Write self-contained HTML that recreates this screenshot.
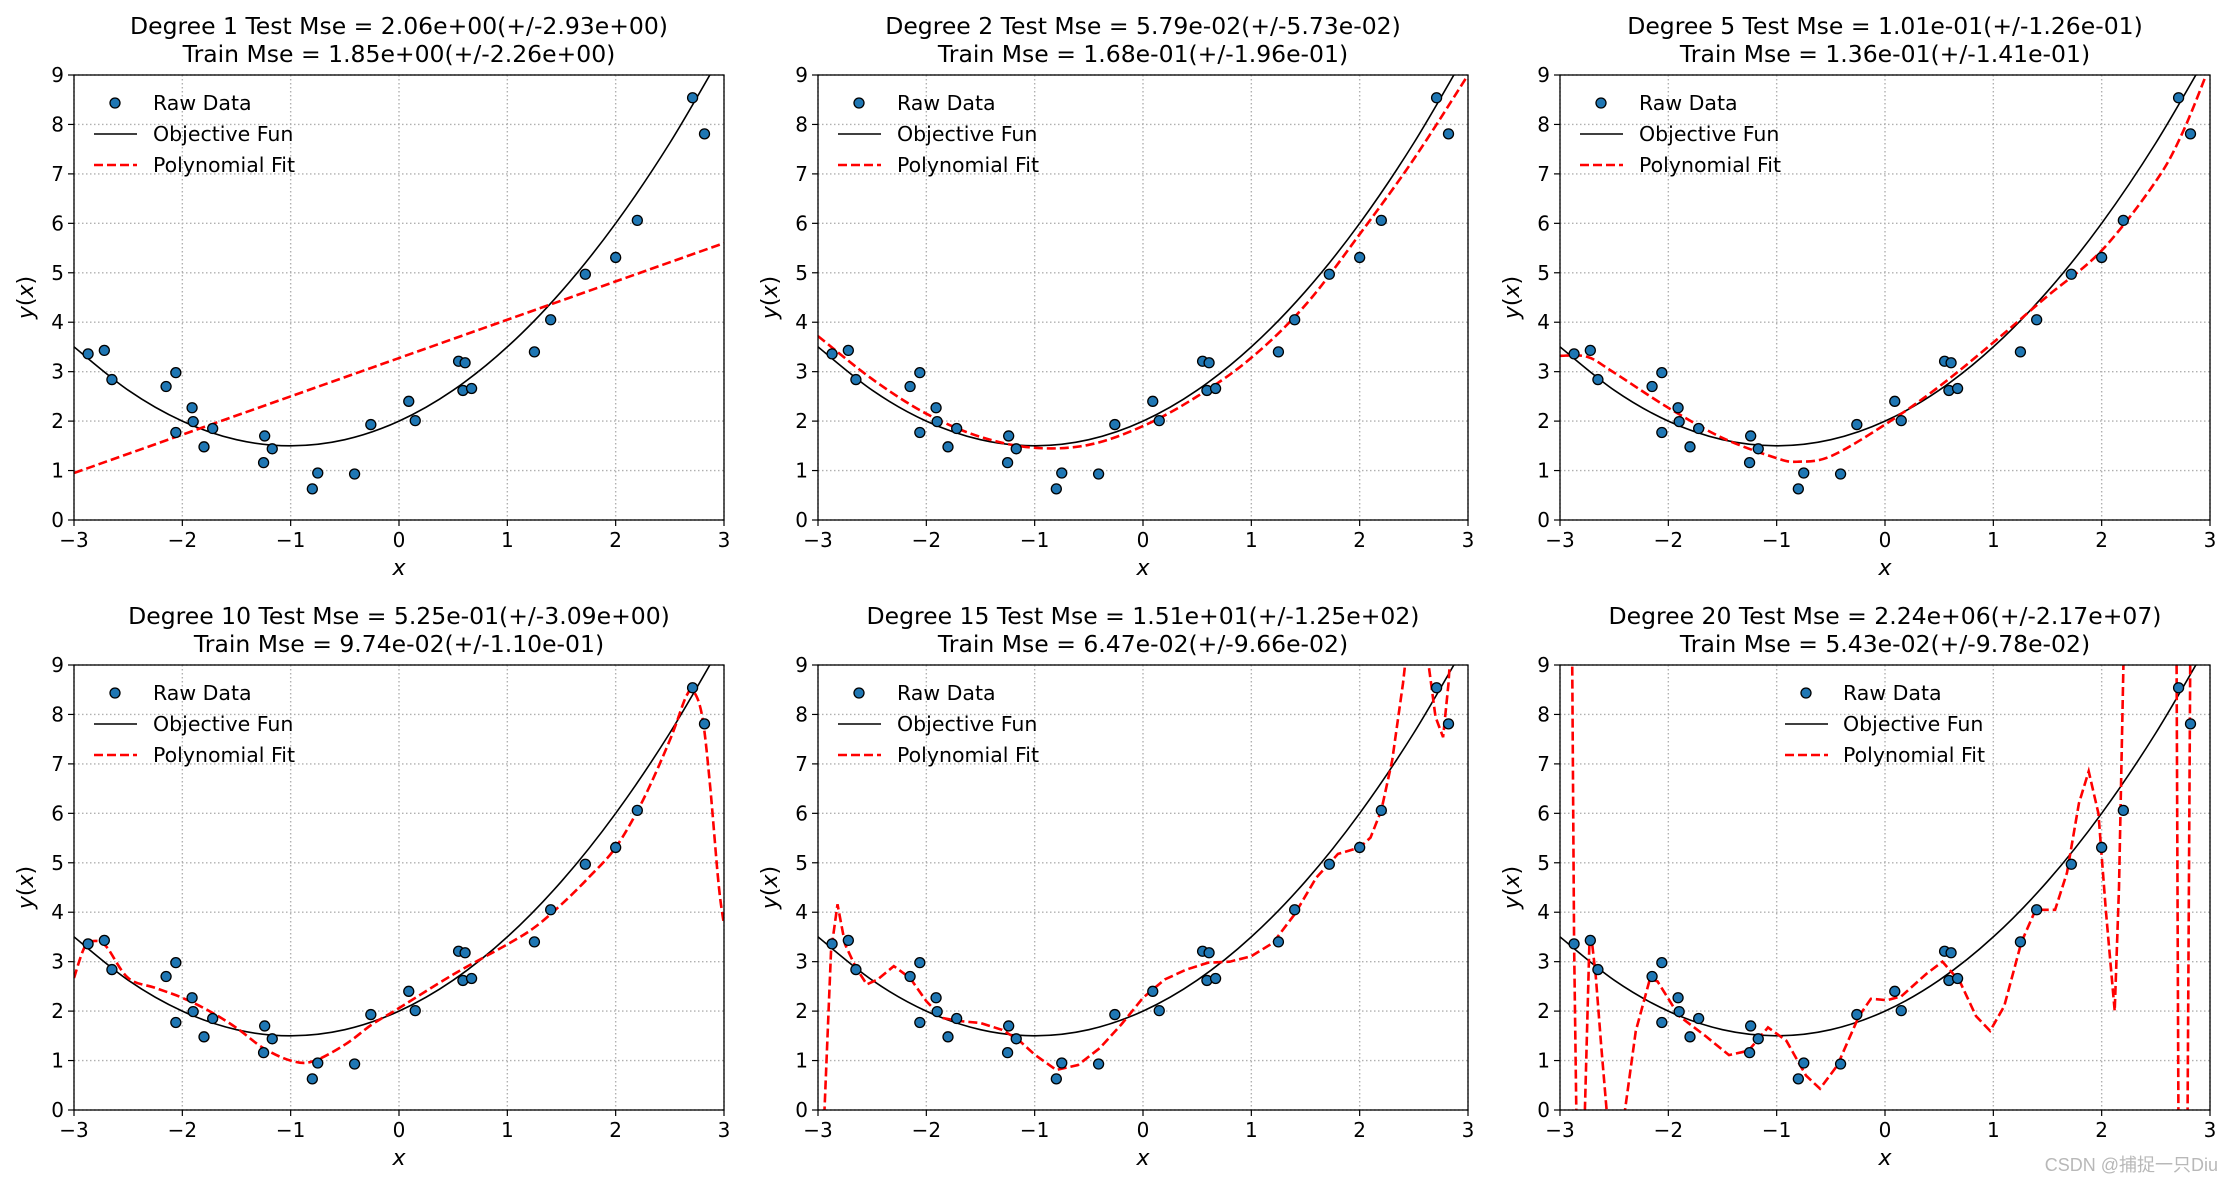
<!DOCTYPE html>
<html><head><meta charset="utf-8"><style>
html,body{margin:0;padding:0;background:#fff;width:2230px;height:1183px;overflow:hidden;}
svg{display:block;font-family:"DejaVu Sans","Liberation Sans",sans-serif;}
</style></head><body>
<svg id="fig" width="2230" height="1183" viewBox="0 0 2230 1183"></svg>
<script>
const xData=[-2.87,-2.72,-2.65,-2.15,-2.06,-2.06,-1.91,-1.90,-1.80,-1.72,-1.24,-1.25,-1.17,-0.80,-0.75,-0.41,-0.26,0.09,0.15,0.55,0.61,0.59,0.67,1.25,1.40,1.72,2.00,2.20,2.71,2.82];
const yData=[3.36,3.43,2.84,2.70,2.98,1.77,2.27,1.99,1.48,1.85,1.70,1.16,1.44,0.63,0.95,0.93,1.93,2.40,2.01,3.21,3.18,2.62,2.66,3.40,4.05,4.97,5.31,6.06,8.54,7.81];
const objX=[-3,-2.5,-2,-1.5,-1,-0.5,0,0.5,1,1.5,2,2.5,3];
const objY=[3.5,2.625,2,1.625,1.5,1.625,2,2.625,3.5,4.625,6,7.625,9.5];
const degrees=[1,2,5,10,15,20];
const titles1=["Degree 1 Test Mse = 2.06e+00(+/-2.93e+00)","Degree 2 Test Mse = 5.79e-02(+/-5.73e-02)","Degree 5 Test Mse = 1.01e-01(+/-1.26e-01)","Degree 10 Test Mse = 5.25e-01(+/-3.09e+00)","Degree 15 Test Mse = 1.51e+01(+/-1.25e+02)","Degree 20 Test Mse = 2.24e+06(+/-2.17e+07)"];
const titles2=["Train Mse = 1.85e+00(+/-2.26e+00)","Train Mse = 1.68e-01(+/-1.96e-01)","Train Mse = 1.36e-01(+/-1.41e-01)","Train Mse = 9.74e-02(+/-1.10e-01)","Train Mse = 6.47e-02(+/-9.66e-02)","Train Mse = 5.43e-02(+/-9.78e-02)"];
const fit1X=[-3,3];
const fit1Y=[0.95,5.6];
const fit2X=[-3,-2.5,-2,-1.5,-1,-0.5,0,0.5,1,1.5,2,2.5,3];
const fit2Y=[3.72,2.85,2.15,1.68,1.46,1.52,1.9,2.5,3.28,4.35,5.78,7.3,9.0];
const fit5X=[-3,-2.75,-2.5,-2,-1.5,-1,-0.8,-0.5,0,0.5,1,1.5,2,2.5,2.75,3];
const fit5Y=[3.32,3.3,2.98,2.27,1.66,1.25,1.18,1.29,1.93,2.7,3.59,4.53,5.45,6.85,7.85,9.2];
const fit10X=[-3,-2.9,-2.8,-2.7,-2.5,-2.25,-2,-1.75,-1.5,-1.25,-1,-0.8,-0.5,-0.25,0,0.5,1,1.25,1.5,1.75,2,2.25,2.5,2.65,2.72,2.8,2.87,2.95,3];
const fit10Y=[2.67,3.3,3.42,3.3,2.67,2.47,2.27,2.0,1.66,1.25,1.0,0.98,1.32,1.73,2.06,2.74,3.35,3.69,4.16,4.7,5.31,6.26,7.48,8.36,8.46,7.95,6.6,4.57,3.75];
const fit15X=[-3,-2.94,-2.88,-2.82,-2.75,-2.65,-2.55,-2.45,-2.3,-2.15,-2,-1.85,-1.7,-1.5,-1.3,-1.15,-1,-0.8,-0.6,-0.4,-0.2,0,0.2,0.4,0.6,0.8,1,1.2,1.4,1.6,1.8,2,2.1,2.2,2.3,2.4,2.45,2.6,2.7,2.77,2.82,2.86];
const fit15Y=[-3,0,3.2,4.16,3.35,2.88,2.54,2.64,2.91,2.67,2.2,1.86,1.8,1.76,1.62,1.42,1.12,0.81,0.91,1.25,1.73,2.27,2.64,2.84,2.98,3.0,3.11,3.38,3.96,4.7,5.18,5.31,5.51,6.06,7.07,8.63,9.6,9.6,7.95,7.54,8.63,10];
const fit20X=[-3,-2.89,-2.87,-2.85,-2.83,-2.79,-2.77,-2.73,-2.71,-2.67,-2.62,-2.57,-2.5,-2.4,-2.3,-2.17,-2.1,-1.9,-1.66,-1.44,-1.26,-1.08,-0.91,-0.73,-0.6,-0.44,-0.24,-0.13,0.02,0.15,0.38,0.53,0.69,0.84,0.97,1.1,1.26,1.39,1.57,1.68,1.79,1.88,1.97,2.04,2.12,2.16,2.21,2.69,2.71,2.79,2.82];
const fit20Y=[30,10,3.35,0,-1,-1,0,3.3,3.5,2.7,1.3,0,-0.6,0,1.6,2.65,2.6,1.9,1.5,1.11,1.2,1.67,1.4,0.7,0.43,0.9,1.9,2.25,2.22,2.3,2.75,3.0,2.6,1.9,1.6,2.1,3.4,4.05,4.05,4.8,6.2,6.85,6.0,4.0,2.0,4.5,10,10,-1,-1,10];
const fitsX=[fit1X,fit2X,fit5X,fit10X,fit15X,fit20X];
const fitsY=[fit1Y,fit2Y,fit5Y,fit10Y,fit15Y,fit20Y];
const smooth=[false,true,true,true,false,false];
const xTicks=[-3,-2,-1,0,1,2,3];
const yTicks=[0,1,2,3,4,5,6,7,8,9];
const legendLabels=["Raw Data","Objective Fun","Polynomial Fit"];

const NS="http://www.w3.org/2000/svg";
const svg=document.getElementById('fig');
function mk(tag,attrs,parent){const e=document.createElementNS(NS,tag);for(const k in attrs)e.setAttribute(k,attrs[k]);(parent||svg).appendChild(e);return e;}
const colL=[74,818,1560], rowT=[75,665], W=650, H=445;
function pathD(px,py,sm){
  let d="M"+px[0].toFixed(1)+","+py[0].toFixed(1);
  if(!sm||px.length<3){for(let i=1;i<px.length;i++)d+="L"+px[i].toFixed(1)+","+py[i].toFixed(1);return d;}
  for(let i=0;i<px.length-1;i++){
    const x0=px[Math.max(i-1,0)],y0=py[Math.max(i-1,0)],x1=px[i],y1=py[i],x2=px[i+1],y2=py[i+1],x3=px[Math.min(i+2,px.length-1)],y3=py[Math.min(i+2,px.length-1)];
    d+="C"+(x1+(x2-x0)/6).toFixed(1)+","+(y1+(y2-y0)/6).toFixed(1)+" "+(x2-(x3-x1)/6).toFixed(1)+","+(y2-(y3-y1)/6).toFixed(1)+" "+x2.toFixed(1)+","+y2.toFixed(1);
  }
  return d;
}
for(let p=0;p<6;p++){
  const L=colL[p%3], T=rowT[Math.floor(p/3)];
  const sx=v=>L+(v+3)/6*W, sy=v=>T+H-v/9*H;
  const g=mk('g',{});
  
  
  const cp=mk('clipPath',{id:'cp'+p},g); mk('rect',{x:L,y:T,width:W,height:H},cp);
  const t1=mk('text',{x:L+W/2,y:T-41,'text-anchor':'middle','font-size':23.5,fill:'#000'},g);t1.textContent=titles1[p];
  
  const t2=mk('text',{x:L+W/2,y:T-13,'text-anchor':'middle','font-size':23.5,fill:'#000'},g);t2.textContent=titles2[p];
  
  for(const v of xTicks){const l=mk('line',{x1:sx(v),x2:sx(v),y1:T,y2:T+H,stroke:'#b0b0b0','stroke-width':1.4,'stroke-dasharray':'1.5,2.5'},g);}
  for(const v of yTicks){const l=mk('line',{x1:L,x2:L+W,y1:sy(v),y2:sy(v),stroke:'#b0b0b0','stroke-width':1.4,'stroke-dasharray':'1.5,2.5'},g);}
  const cg=mk('g',{'clip-path':'url(#cp'+p+')'},g);
  const obj=mk('path',{d:pathD(objX.map(sx),objY.map(sy),true),fill:'none',stroke:'#000','stroke-width':1.6},cg);
  
  const fit=mk('path',{d:pathD(fitsX[p].map(sx),fitsY[p].map(sy),smooth[p]),fill:'none',stroke:'#ff0000','stroke-width':2.6,'stroke-dasharray':'9,4'},cg);
  
  for(let i=0;i<xData.length;i++){
    const c=mk('circle',{cx:sx(xData[i]),cy:sy(yData[i]),r:5,fill:'#1f77b4',stroke:'#000','stroke-width':1.3},cg);
    
  }
  const fr=mk('rect',{x:L,y:T,width:W,height:H,fill:'none',stroke:'#000','stroke-width':1.3},g);
  
  for(const v of xTicks){
    mk('line',{x1:sx(v),x2:sx(v),y1:T+H,y2:T+H+6,stroke:'#000','stroke-width':1.2},g);
    const t=mk('text',{x:sx(v),y:T+H+27,'text-anchor':'middle','font-size':20},g);t.textContent=(v<0?'\u2212':'')+Math.abs(v);
    
  }
  for(const v of yTicks){
    mk('line',{x1:L-6,x2:L,y1:sy(v),y2:sy(v),stroke:'#000','stroke-width':1.2},g);
    const t=mk('text',{x:L-10,y:sy(v)+7,'text-anchor':'end','font-size':20},g);t.textContent=v;
    
  }
  const xl=mk('text',{x:L+W/2,y:T+H+55,'text-anchor':'middle','font-size':22,'font-style':'italic'},g);xl.textContent='x';
  
  const yl=mk('text',{x:0,y:0,'text-anchor':'middle','font-size':22,transform:'translate('+(L-41)+','+(T+H/2)+') rotate(-90)'},g);
  yl.innerHTML='<tspan font-style="italic">y</tspan>(<tspan font-style="italic">x</tspan>)';
  
  const lx=(p===5)?L+246:L+41, tx=(p===5)?L+283:L+79;
  const lg=mk('g',{},g);
  
  mk('circle',{cx:lx,cy:T+28,r:5,fill:'#1f77b4',stroke:'#000','stroke-width':1.3},lg);
  mk('line',{x1:lx-21,x2:lx+22,y1:T+59,y2:T+59,stroke:'#000','stroke-width':1.6},lg);
  mk('line',{x1:lx-21,x2:lx+22,y1:T+90,y2:T+90,stroke:'#ff0000','stroke-width':2.6,'stroke-dasharray':'9,4'},lg);
  for(let k=0;k<3;k++){const t=mk('text',{x:tx,y:T+35+31*k,'font-size':20.5},lg);t.textContent=legendLabels[k];
    }
}
const wm=mk('text',{x:2218,y:1171,'text-anchor':'end','font-size':18,fill:'#b8b8b8','font-family':'"Liberation Sans","Noto Sans CJK SC",sans-serif'});
wm.textContent='CSDN @捕捉一只Diu';


</script>
</body></html>
